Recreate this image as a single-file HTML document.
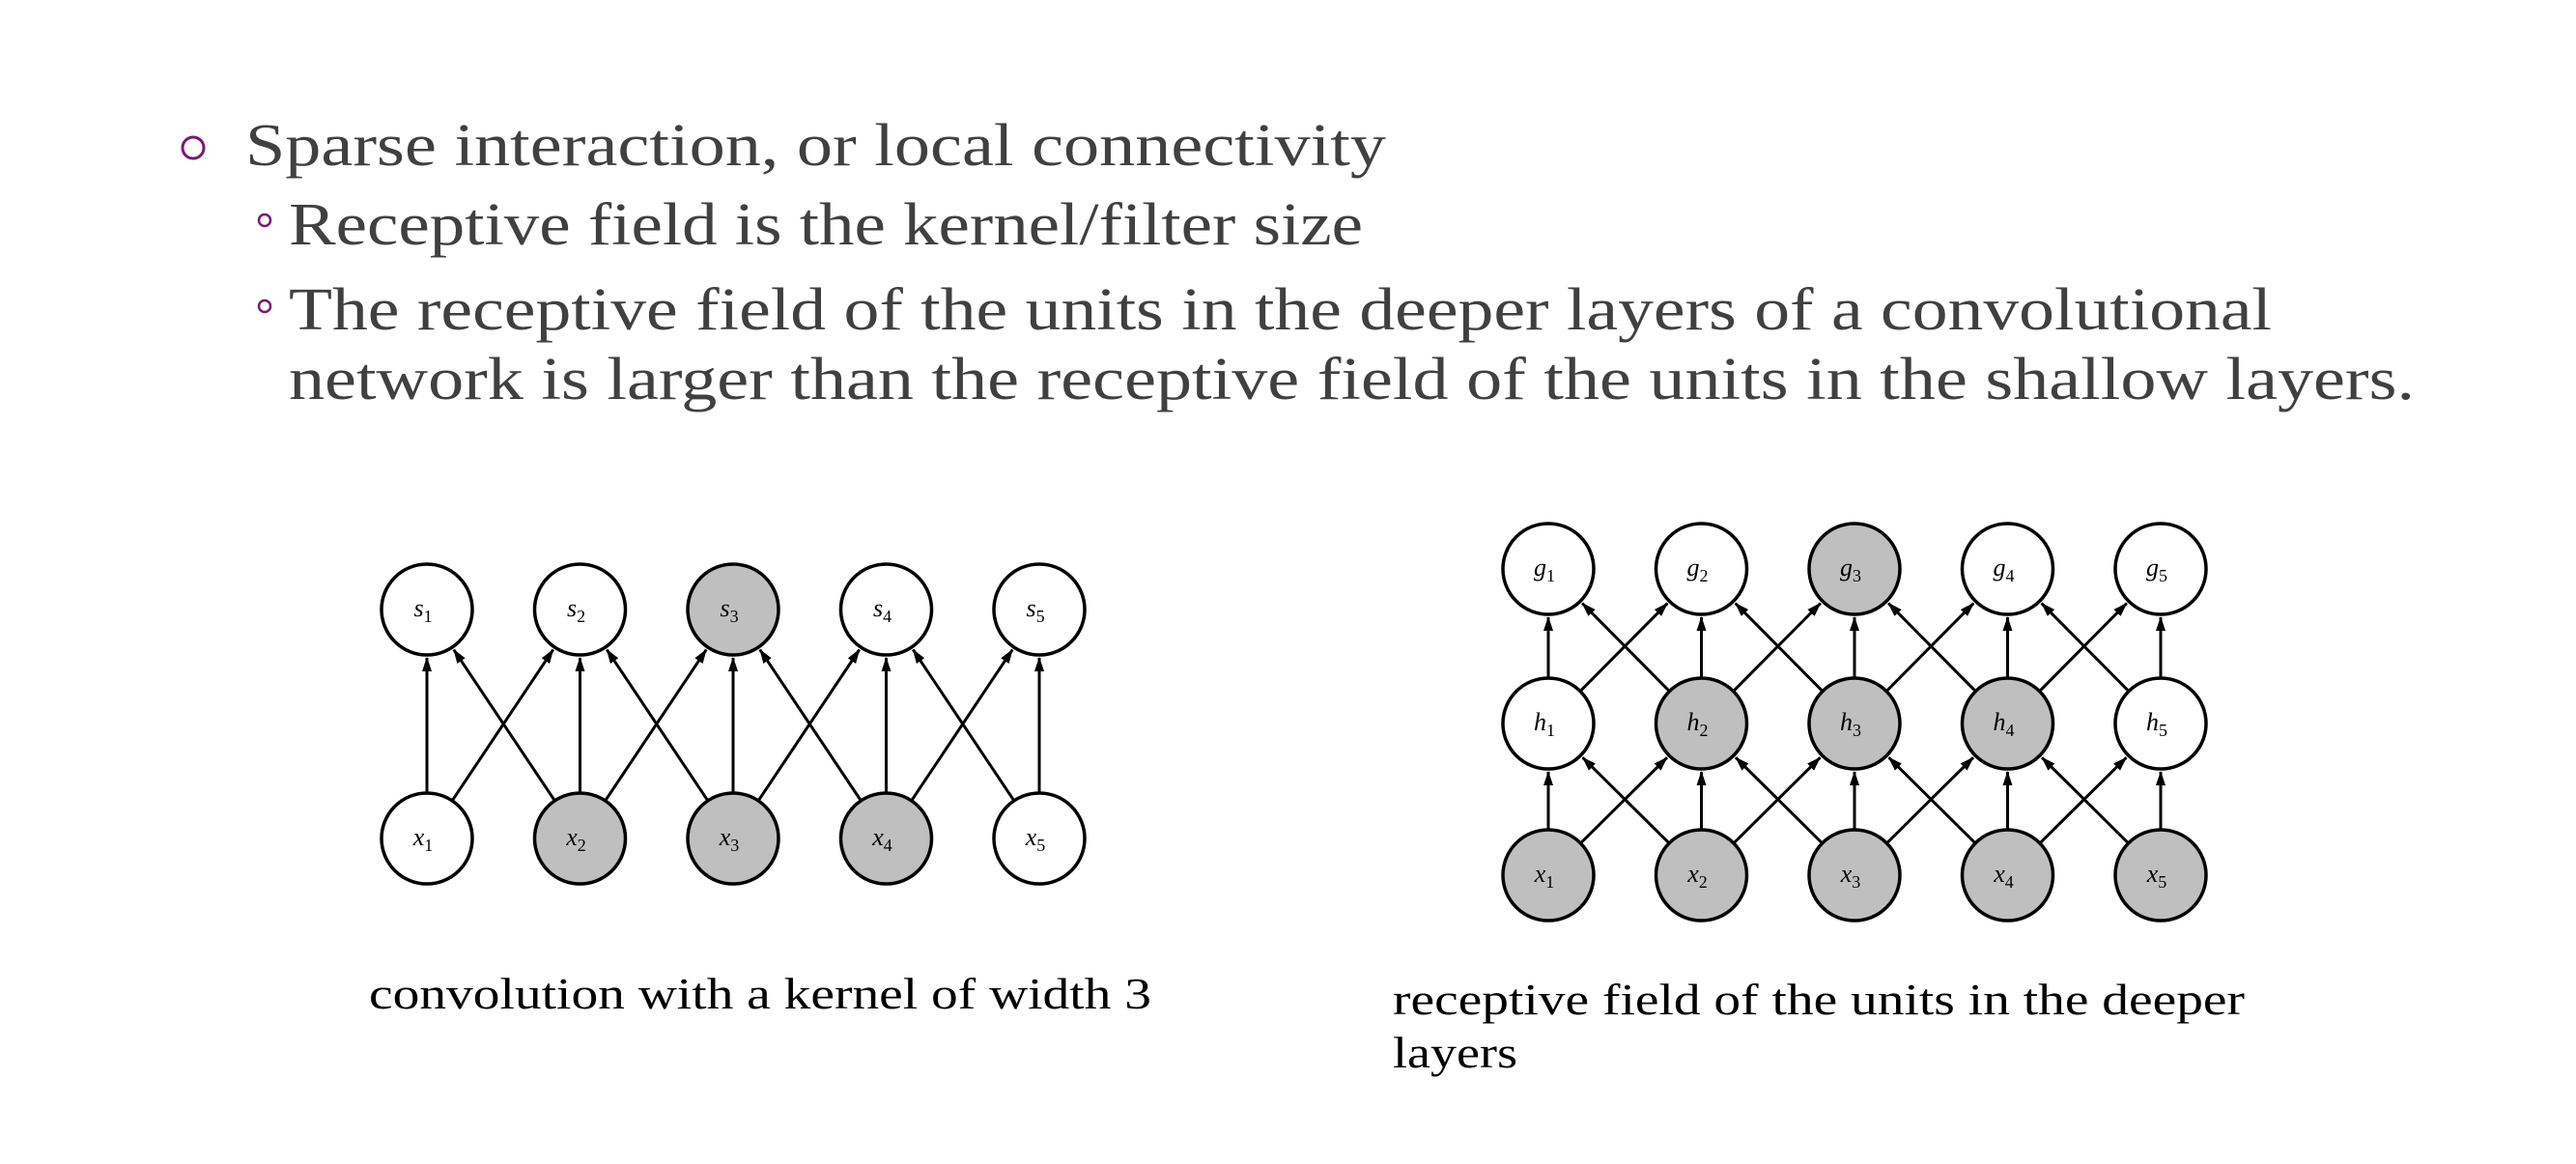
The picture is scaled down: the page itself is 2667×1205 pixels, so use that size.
<!DOCTYPE html>
<html><head><meta charset="utf-8"><style>
html,body{margin:0;padding:0;background:#fff;width:2667px;height:1205px;overflow:hidden}
</style></head><body>
<svg id="s" xmlns="http://www.w3.org/2000/svg" width="2667" height="1205" viewBox="0 0 2667 1205">
<defs><marker id="ah" markerWidth="16" markerHeight="12" refX="14" refY="6" orient="auto" markerUnits="userSpaceOnUse"><path d="M0,1 L15,6 L0,11 z" fill="#000"/></marker></defs>
<g font-family="'Liberation Serif',serif" fill="#404040" font-size="62">
<circle cx="200" cy="153" r="11" fill="none" stroke="#7a1a6e" stroke-width="3"/>
<text x="254" y="171" textLength="1181" lengthAdjust="spacingAndGlyphs">Sparse interaction,  or local connectivity</text>
<circle cx="274" cy="228" r="6" fill="none" stroke="#7a1a6e" stroke-width="2.5"/>
<text x="299" y="253" textLength="1112" lengthAdjust="spacingAndGlyphs">Receptive field is the kernel/filter size</text>
<circle cx="274" cy="317" r="6" fill="none" stroke="#7a1a6e" stroke-width="2.5"/>
<text x="299" y="341" textLength="2053" lengthAdjust="spacingAndGlyphs">The receptive field of the units in the deeper layers of a convolutional</text>
<text x="299" y="413" textLength="2201" lengthAdjust="spacingAndGlyphs">network is larger than the receptive field of the units in the shallow layers.</text>
</g>
<g font-family="'Liberation Serif',serif" fill="#000" font-size="46">
<text x="382" y="1044" textLength="810" lengthAdjust="spacingAndGlyphs">convolution with a kernel of width 3</text>
<text x="1442" y="1050" textLength="882" lengthAdjust="spacingAndGlyphs">receptive field of the units in the deeper</text>
<text x="1442" y="1105" textLength="129" lengthAdjust="spacingAndGlyphs">layers</text>
</g>
<g id="d"></g>
</svg>
<script>
var d=document.getElementById('d'),NS='http://www.w3.org/2000/svg',R=47,G='#bfbfbf';
function el(t,a){var e=document.createElementNS(NS,t);for(var k in a)e.setAttribute(k,a[k]);d.appendChild(e);return e;}
function node(x,y,lab,sub,f){el('circle',{cx:x,cy:y,r:R,fill:f?G:'#fff',stroke:'#000','stroke-width':3.5});
var t=el('text',{x:x-4,y:y+7,'font-family':"'Liberation Serif',serif",'font-style':'italic','font-size':26,'text-anchor':'middle',fill:'#000'});
t.textContent=lab;var s=document.createElementNS(NS,'tspan');s.setAttribute('font-size',18);s.setAttribute('font-style','normal');s.setAttribute('dy',6);s.textContent=sub;t.appendChild(s);}
function edge(x1,y1,x2,y2){var dx=x2-x1,dy=y2-y1,L=Math.hypot(dx,dy),ux=dx/L,uy=dy/L;
el('line',{x1:x1+ux*R,y1:y1+uy*R,x2:x2-ux*(R+3),y2:y2-uy*(R+3),stroke:'#000','stroke-width':3,'marker-end':'url(#ah)'});}
function layer(x0,yb,yt){for(var i=0;i<5;i++)for(var j=i-1;j<=i+1;j++)if(j>=0&&j<5)edge(x0+i*158.5,yb,x0+j*158.5,yt);}
layer(442,868,631);
for(var i=0;i<5;i++){node(442+i*158.5,631,'s',i+1,i==2);node(442+i*158.5,868,'x',i+1,i>0&&i<4);}
layer(1603,906,749);layer(1603,749,589);
for(var i=0;i<5;i++){var x=1603+i*158.5;node(x,589,'g',i+1,i==2);node(x,749,'h',i+1,i>0&&i<4);node(x,906,'x',i+1,true);}
</script>
</body></html>
